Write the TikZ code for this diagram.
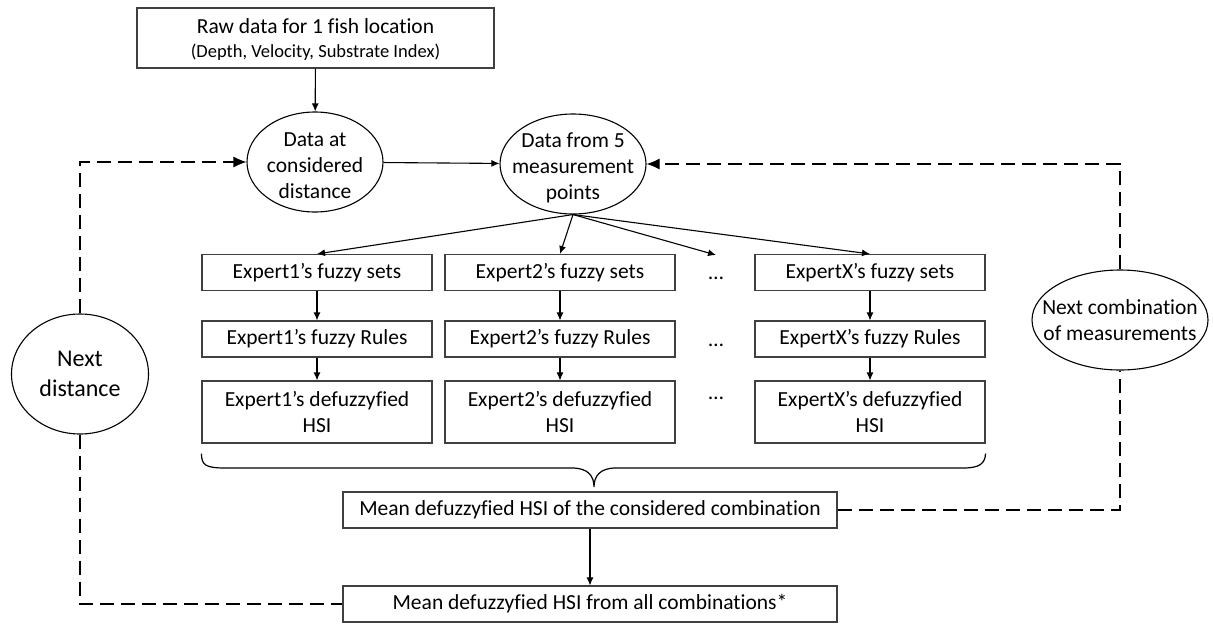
\documentclass[tikz,border=0pt]{standalone}
\usepackage{fontspec}
\setmainfont{Carlito}[Ligatures={NoCommon}]
\usetikzlibrary{shapes.geometric,arrows.meta,calc}
\newcommand{\mainfs}{\fontsize{21.5}{26}\selectfont}
\newcommand{\subfs}{\fontsize{18.5}{24}\selectfont}
\newcommand{\bigfs}{\fontsize{24}{30}\selectfont}
\begin{document}
\begin{tikzpicture}[x=1pt,y=-1pt,
  every node/.style={font=\mainfs, align=center, inner sep=0pt},
  box/.style={draw=black!75, line width=1.1pt, minimum width=230pt, minimum height=36pt},
  tallbox/.style={box, minimum height=62pt},
  oval/.style={draw, ellipse, line width=1.1pt},
  arr/.style={line width=1.1pt, -{Latex[length=8pt,width=7pt]}},
  darr/.style={line width=1.1pt, dash pattern=on 14pt off 7pt},
  dtip/.style={-{Latex[length=13pt,width=11pt]}}
]
\useasboundingbox (0,0) rectangle (1214,624);

% top
\node[box, minimum width=357pt, minimum height=60pt] (raw) at (315.5,38) {};
\node[font=\mainfs] (rawt) at (315.5,26.5) {Raw data for 1 fish location};
\node[font=\subfs] (raws) at (315.5,52) {(Depth, Velocity, Substrate Index)};

\node[oval, minimum width=136pt, minimum height=100pt] (e1) at (315,162) {};
\node[yshift=-4pt] (e1t) at (e1) {Data at\\considered\\distance};
\node[oval, minimum width=146pt, minimum height=100pt] (e2) at (573,164) {};
\node[yshift=-4pt] (e2t) at (e2) {Data from 5\\measurement\\points};

% expert columns
\node[box] (s1) at (317,272.5) {Expert1’s fuzzy sets};
\node[box] (s2) at (560,272.5) {Expert2’s fuzzy sets};
\node[box] (sx) at (870,272.5) {ExpertX’s fuzzy sets};
\node[box] (r1) at (317,339) {Expert1’s fuzzy Rules};
\node[box] (r2) at (560,339) {Expert2’s fuzzy Rules};
\node[box] (rx) at (870,339) {ExpertX’s fuzzy Rules};
\node[tallbox] (d1) at (317,412) {Expert1’s defuzzyfied\\HSI};
\node[tallbox] (d2) at (560,412) {Expert2’s defuzzyfied\\HSI};
\node[tallbox] (dx) at (870,412) {ExpertX’s defuzzyfied\\HSI};

\node (dots1) at (716,278) {…};
\node (dots2) at (716,345) {…};
\node (dots3) at (716,398) {…};
\coordinate (dtop) at (716,255);

% means
\node[box, minimum width=494pt] (m1) at (590,510) {Mean defuzzyfied HSI of the considered combination};
\node[box, minimum width=494pt] (m2) at (590,604) {Mean defuzzyfied HSI from all combinations*};

% loop ovals
\node[oval, minimum width=137pt, minimum height=120pt] (nd) at (80,374) {};
\node[font=\bigfs] (ndt) at (nd) {Next\\distance};
\node[oval, minimum width=176pt, minimum height=100pt] (nc) at (1120,320) {};
\node (nct) at (nc) {Next combination\\of measurements};

% solid arrows
\draw[arr] (raw) -- (e1);
\draw[arr] (e1) -- (e2);
\draw[arr] (e2.south) -- (s1.north);
\draw[arr] (e2.south) -- (s2.north);
\draw[arr] (e2.south) -- (dtop);
\draw[arr] (e2.south) -- (sx.north);
\draw[arr] (s1) -- (r1);
\draw[arr] (r1) -- (d1);
\draw[arr] (s2) -- (r2);
\draw[arr] (r2) -- (d2);
\draw[arr] (sx) -- (rx);
\draw[arr] (rx) -- (dx);
\draw[arr] (m1) -- (m2);

% brace
\coordinate (btip) at (594,487);
\coordinate (bl) at ($(d1.south west)+(0,10)$);
\coordinate (br) at ($(dx.south east)+(0,10)$);
\draw[line width=1.2pt] (bl)
  .. controls ($(bl)+(0,12)$) and (206,468) .. (226,468) -- (572,468)
  .. controls (588,468) and (594,476) .. (btip)
  .. controls (594,476) and (600,468) .. (616,468) -- (963,468)
  .. controls (979,468) and (985,464) .. (br);

% dashed loops
\draw[darr, dtip] (nd.north) |- (e1.west);
\draw[darr] (nd.south) |- (m2.west);
\draw[darr] (m1.east) -| (nc.south);
\draw[darr, dtip] (nc.north) |- (e2.east);
\end{tikzpicture}
\end{document}
